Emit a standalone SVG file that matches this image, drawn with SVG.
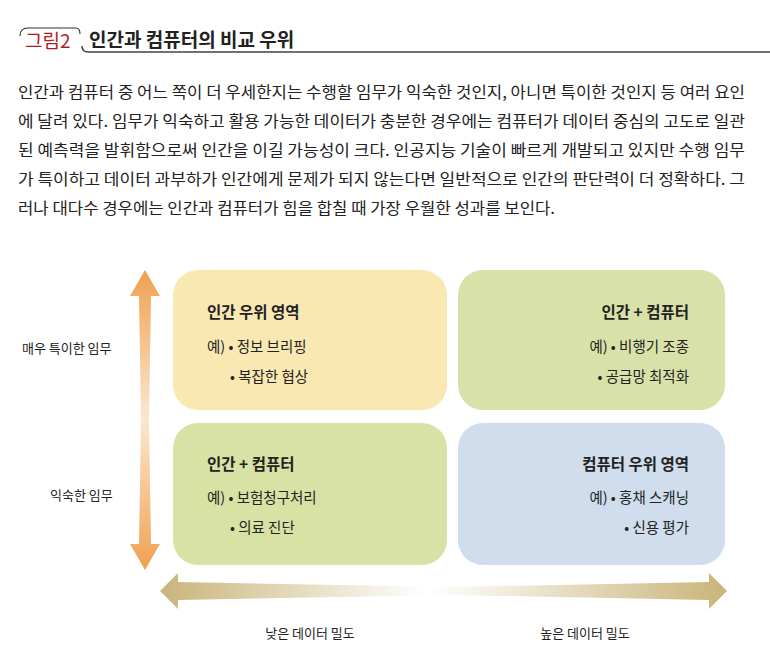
<svg xmlns="http://www.w3.org/2000/svg" width="770" height="665" viewBox="0 0 770 665">
<style>
text{font-family:"Noto Sans CJK KR","Noto Sans",sans-serif;fill:#222}
.body{font-size:15.8px}
.h{font-size:15.5px;font-weight:bold}
.t{font-size:14.5px}
.ax{font-size:13px}
</style>
<defs>
<linearGradient id="gh" x1="0" x2="1" y1="0" y2="0">
<stop offset="0" stop-color="#c9b47a"/><stop offset="0.47" stop-color="#ffffff"/><stop offset="1" stop-color="#c9b47a"/>
</linearGradient>
<linearGradient id="gv" x1="0" x2="0" y1="0" y2="1">
<stop offset="0" stop-color="#f0a050"/><stop offset="0.5" stop-color="#fbe8d0"/><stop offset="1" stop-color="#f0a050"/>
</linearGradient>
</defs>
<g id="title">
<path d="M20 36 Q20 28 28 28 L76 28 Q80 28 80 34" fill="none" stroke="#333" stroke-width="1.2"/>
<path d="M82 46 Q82 52 88 52 L770 52" fill="none" stroke="#444" stroke-width="1.5"/>
<text x="25" y="48" style="font-size:19px;fill:#b01e23">그림2</text>
<text x="89" y="47" style="font-size:19px;font-weight:bold">인간과 컴퓨터의 비교 우위</text>
</g>
<g id="body">
<text class="body" x="18" y="98" textLength="727" lengthAdjust="spacingAndGlyphs">인간과 컴퓨터 중 어느 쪽이 더 우세한지는 수행할 임무가 익숙한 것인지, 아니면 특이한 것인지 등 여러 요인</text>
<text class="body" x="18" y="127" textLength="727" lengthAdjust="spacingAndGlyphs">에 달려 있다. 임무가 익숙하고 활용 가능한 데이터가 충분한 경우에는 컴퓨터가 데이터 중심의 고도로 일관</text>
<text class="body" x="18" y="156" textLength="727" lengthAdjust="spacingAndGlyphs">된 예측력을 발휘함으로써 인간을 이길 가능성이 크다. 인공지능 기술이 빠르게 개발되고 있지만 수행 임무</text>
<text class="body" x="18" y="185" textLength="727" lengthAdjust="spacingAndGlyphs">가 특이하고 데이터 과부하가 인간에게 문제가 되지 않는다면 일반적으로 인간의 판단력이 더 정확하다. 그</text>
<text class="body" x="18" y="214" textLength="537" lengthAdjust="spacingAndGlyphs">러나 대다수 경우에는 인간과 컴퓨터가 힘을 합칠 때 가장 우월한 성과를 보인다.</text>
</g>
<g id="connectors">
<path d="M145 270 L160 296 L151 296 L149 420 L141 420 L139 296 L130 296 Z M145 570 L130 544 L139 544 L141 420 L149 420 L151 544 L160 544 Z" fill="url(#gv)"/>
<path d="M160 591 L178 573 L178 582 L450 587 L450 595 L178 600 L178 609 Z M727 591 L709 573 L709 582 L450 587 L450 595 L709 600 L709 609 Z" fill="url(#gh)"/>
</g>
<g id="n1"><rect x="173" y="270" width="274" height="140" rx="25" fill="#f9e8b2"/>
<text class="h" x="207" y="318">인간 우위 영역</text>
<text class="t" x="207" y="352">예) • 정보 브리핑</text>
<text class="t" x="230" y="382">• 복잡한 협상</text></g>
<g id="n2"><rect x="458" y="270" width="267" height="140" rx="25" fill="#d8e2a8"/>
<text class="h" x="689" y="318" text-anchor="end">인간 + 컴퓨터</text>
<text class="t" x="689" y="352" text-anchor="end">예) • 비행기 조종</text>
<text class="t" x="689" y="382" text-anchor="end">• 공급망 최적화</text></g>
<g id="n3"><rect x="173" y="423" width="274" height="142" rx="25" fill="#d8e2a4"/>
<text class="h" x="207" y="470">인간 + 컴퓨터</text>
<text class="t" x="207" y="503">예) • 보험청구처리</text>
<text class="t" x="230" y="533">• 의료 진단</text></g>
<g id="n4"><rect x="458" y="423" width="267" height="142" rx="25" fill="#cfddec"/>
<text class="h" x="689" y="470" text-anchor="end">컴퓨터 우위 영역</text>
<text class="t" x="689" y="503" text-anchor="end">예) • 홍채 스캐닝</text>
<text class="t" x="689" y="533" text-anchor="end">• 신용 평가</text></g>
<g id="labels">
<text class="ax" x="22" y="353">매우 특이한 임무</text>
<text class="ax" x="50" y="500">익숙한 임무</text>
<text class="ax" x="310" y="638" text-anchor="middle">낮은 데이터 밀도</text>
<text class="ax" x="585" y="638" text-anchor="middle">높은 데이터 밀도</text>
</g>
</svg>
